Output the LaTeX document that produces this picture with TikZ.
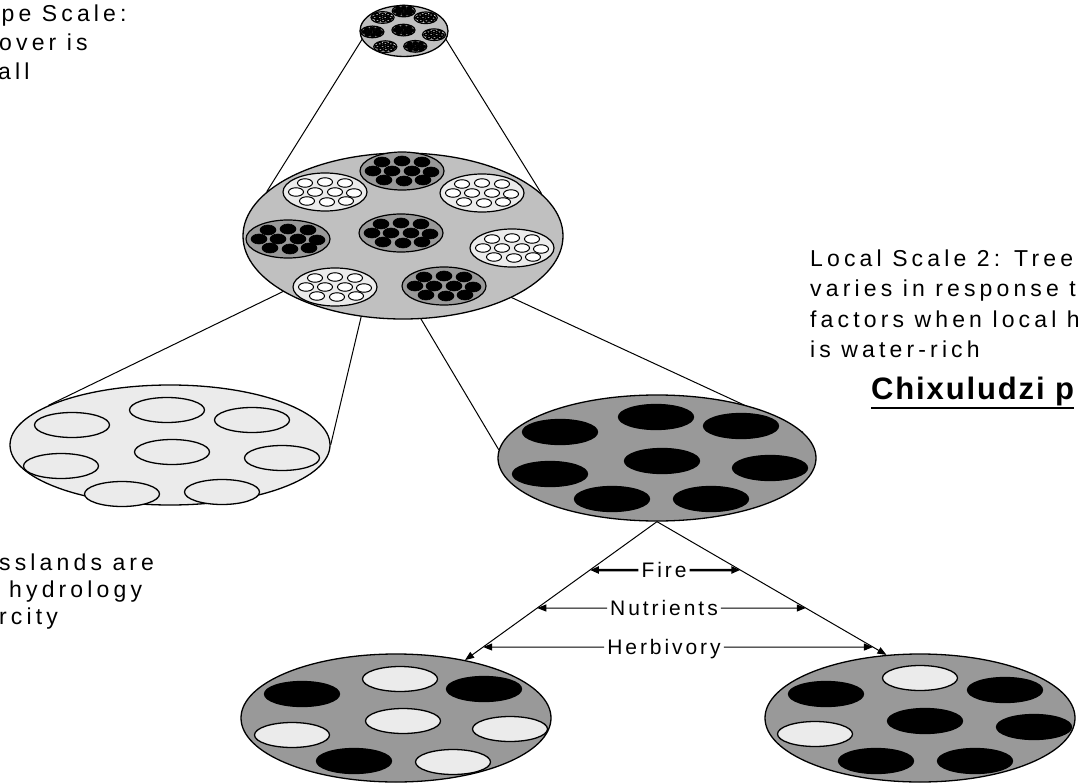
\documentclass[tikz,border=0pt]{standalone}
\usepackage{fontspec}
\setmainfont{Liberation Sans}
\newfontfamily\notefont[LetterSpace=18]{Liberation Sans}
\newfontfamily\factorfont[LetterSpace=14]{Liberation Sans}
\newfontfamily\headfont[LetterSpace=6]{Liberation Sans}
\usetikzlibrary{arrows.meta, shapes.geometric, backgrounds}
\definecolor{palegray}{HTML}{EBEBEB}
\definecolor{midgray}{HTML}{999999}
\definecolor{silvergray}{HTML}{C0C0C0}
% underlined heading text
\newcommand{\sitemark}[1]{\setbox0\hbox{#1}\rlap{\rule[-9.7pt]{\wd0}{2.2pt}}\box0}
\tikzset{%
	every disc/.style={
		ellipse,
		draw,
		line width=1.3pt,
		inner sep=0pt
	},
	big disc/.style={every disc, fill=silvergray, minimum width=320pt, minimum height=166pt},
	patch light/.style={every disc, fill=palegray, line width=1.2pt, minimum width=84pt, minimum height=38pt},
	patch dark/.style={every disc, fill=midgray, line width=1.2pt, minimum width=84pt, minimum height=38pt},
	blob light/.style={every disc, fill=white, line width=1pt, minimum width=15pt, minimum height=8.5pt},
	blob dark/.style={every disc, fill=black, line width=0.6pt, minimum width=16pt, minimum height=10pt},
	hole light/.style={every disc, fill=palegray, minimum width=75pt, minimum height=25pt},
	hole dark/.style={every disc, fill=black, minimum width=75pt, minimum height=25pt},
	link/.style={line width=1pt},
	flow/.style={line width=1pt, -{Triangle[length=9pt, width=7pt]}},
	note/.style={font=\notefont\fontsize{23}{29}\selectfont, inner sep=0pt, anchor=base west},
	factor/.style={font=\factorfont\fontsize{21}{25}\selectfont, inner sep=3pt, text height=15pt, text depth=0pt},
	heading/.style={font=\headfont\bfseries\fontsize{31}{36}\selectfont, inner sep=0pt, anchor=base west},
}
% one patch of the landscape with its blobs
\newcommand{\patch}[4]{%
	\node[patch #4] (#1) at (#2,#3) {};
	\foreach \dx/\dy in {-20/-9, 0/-10, 20/-9, -29/0, -10/0, 10/0, 29/1, -18/9, 2/10, 21/9}
	\node[blob #4] at (#2+\dx,#3+\dy) {};
}
% the landscape disc with its eight patches
\newcommand{\landmap}[1]{%
	\node[big disc] (#1map) at (0,0) {};
	\foreach \nm/\px/\py/\kind in {t/-1/-65/dark, ul/-78/-44/light, ur/79/-43/light, l/-115/3/dark, c/-2/-3/dark, r/109/12/light, ll/-68/51/light, lr/41/50/dark}
	\patch{#1p-\nm}{\px}{\py}{\kind};
}

\begin{document}
\begin{tikzpicture}[x=1pt, y=-1pt]
	\useasboundingbox (0,0) rectangle (1078,783);
	
	% landscape, small and enlarged
	\begin{scope}[shift={(404,31)}, xscale=0.275, yscale=0.307, transform shape,
		blob light/.append style={line width=1.6pt},
		blob dark/.append style={minimum width=19pt, minimum height=12pt}]
		\landmap{m}
	\end{scope}
	\begin{scope}[shift={(403,236)}]
		\landmap{}
	\end{scope}
	
	% local plots
	\node[every disc, fill=palegray, minimum width=320pt, minimum height=120pt] (grass) at (170,445) {};
	\foreach \hx/\hy in {72/425, 167/410, 252/420, 172/452, 61/466, 282/458, 122/494, 222/492}
	\node[hole light] at (\hx,\hy) {};
	
	\node[every disc, fill=midgray, minimum width=318pt, minimum height=126pt] (mosaic) at (657,458) {};
	\foreach \hx/\hy in {560/432, 656/417, 741/426, 662/461, 550/474, 770/468, 612/499, 711/499}
	\node[hole dark] at (\hx,\hy) {};
	
	\node[every disc, fill=midgray, minimum width=310pt, minimum height=128pt] (sparse) at (396,718) {};
	\foreach \hx/\hy/\kind in {302/694/dark, 400/679/light, 484/689/dark, 403/721/light, 292/735/light, 510/729/light, 354/761/dark, 453/762/light}
	\node[hole \kind] at (\hx,\hy) {};
	
	\node[every disc, fill=midgray, minimum width=310pt, minimum height=128pt] (dense) at (920,718) {};
	\foreach \hx/\hy/\kind in {826/694/dark, 920/678/light, 1005/690/dark, 925/721/dark, 815/734/light, 1034/727/dark, 876/761/dark, 975/761/dark}
	\node[hole \kind] at (\hx,\hy) {};
	
	% connectors behind the discs
	\begin{scope}[on background layer]
		\draw[link] (mmap.190) -- (map.162);
		\draw[link] (mmap.350) -- (map.17);
		\draw[link] (p-ll.west) -- (grass.162);
		\draw[link] (p-ll.-25) -- (grass.east);
		\draw[link] (p-lr.195) -- (mosaic.177);
		\draw[link] (p-lr.east) -- (mosaic.10);
	\end{scope}
	
	% factors
	\coordinate (apex) at (mosaic.south);
	\coordinate (lfoot) at (sparse.40);
	\coordinate (rfoot) at (dense.118);
	\draw[flow] (apex) -- (lfoot);
	\draw[flow] (apex) -- (rfoot);
	\foreach \f/\fy/\w in {Fire/570/2.5pt, Nutrients/608/1pt, Herbivory/647/1pt} {
		\node[factor] (\f) at (664,\fy) {\f};
		\draw[flow, line width=\w] (\f) -- (intersection of apex--lfoot and \f.west--\f.east);
		\draw[flow, line width=\w] (\f) -- (intersection of apex--rfoot and \f.west--\f.east);
	}
	
	% texts
	\foreach \txt/\xs [count=\i] in {pe Scale:/1.5, over is/-1, all/-2}
	\node[note] (landscape-\i) at (\xs,-7+29*\i) {\txt};
	\foreach \txt [count=\i] in {Local Scale 2: Tree, varies in response t, factors when local h, is water-rich}
	\node[note] (local-\i) at (810,237+30*\i) {\txt};
	\node[heading] (site) at (871,399) {\sitemark{Chixuludzi p}};
	\foreach \txt/\xs [count=\i] in {sslands are/-1, hydrology/9, rcity/-1}
	\node[note] (grassland-\i) at (\xs,543+27*\i) {\txt};
	
\end{tikzpicture}
\end{document}
